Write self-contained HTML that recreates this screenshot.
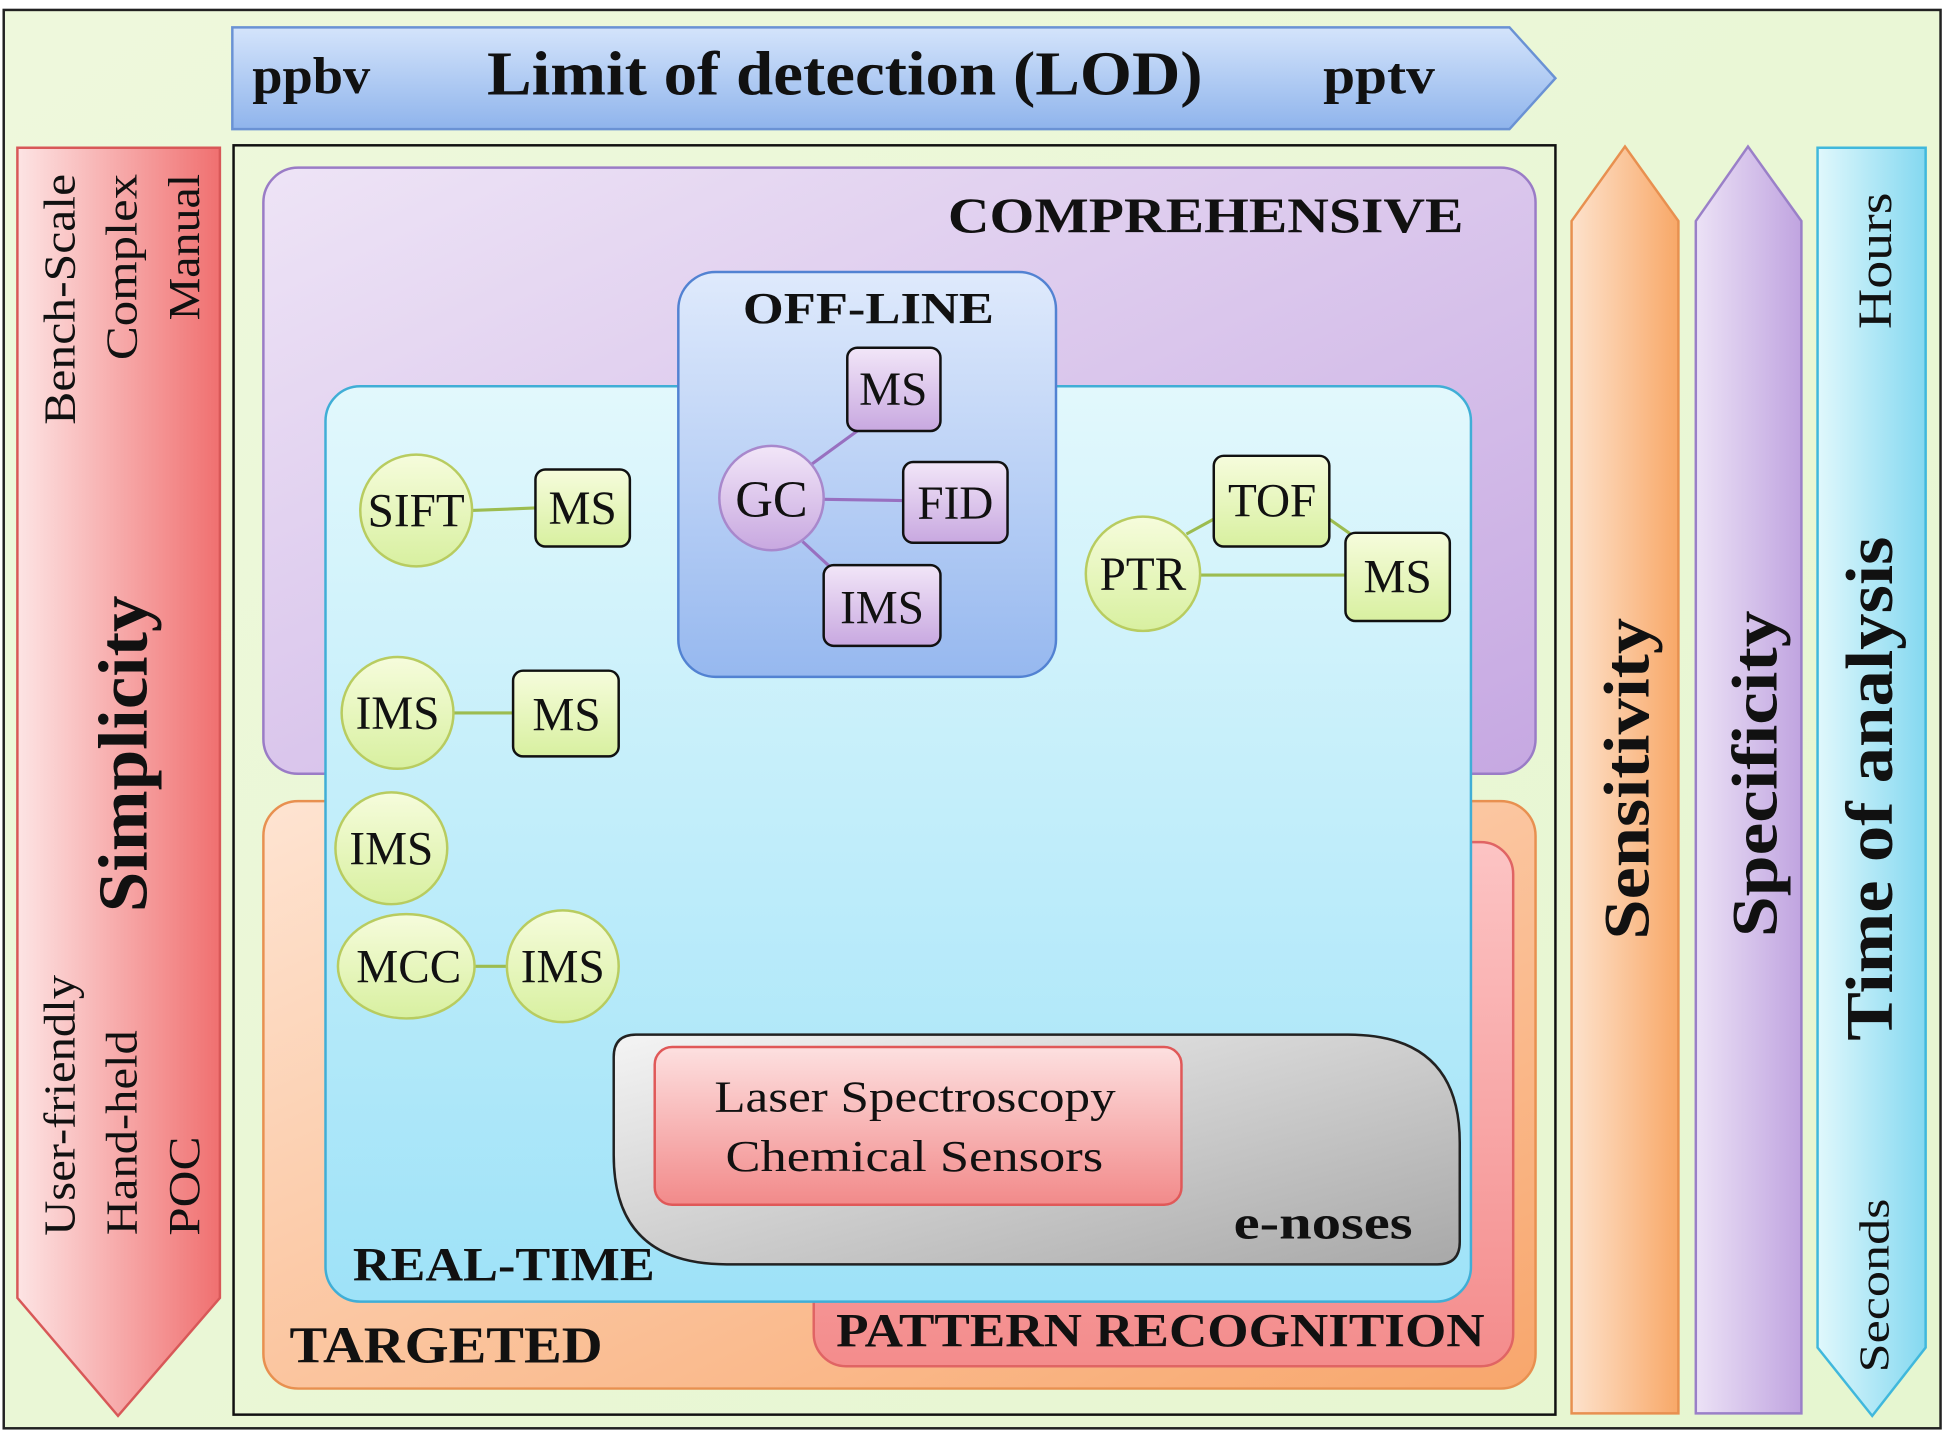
<!DOCTYPE html>
<html><head><meta charset="utf-8"><style>html,body{margin:0;padding:0;background:#fff}svg{display:block}</style></head>
<body>
<svg width="1948" height="1437" viewBox="0 0 1568 1157" preserveAspectRatio="none" xmlns="http://www.w3.org/2000/svg" font-family="Liberation Serif, serif">
<defs>
<linearGradient id="bg" x1="0" y1="0" x2="1" y2="1"><stop offset="0" stop-color="#eef8dc"/><stop offset="1" stop-color="#e6f6d0"/></linearGradient>
<linearGradient id="lod" x1="0" y1="0" x2="0" y2="1"><stop offset="0" stop-color="#d4e4fb"/><stop offset="1" stop-color="#8fb4ec"/></linearGradient>
<linearGradient id="simp" x1="0" y1="0" x2="1" y2="0"><stop offset="0" stop-color="#fde4e4"/><stop offset="1" stop-color="#f07070"/></linearGradient>
<linearGradient id="sens" x1="0" y1="0" x2="1" y2="0"><stop offset="0" stop-color="#fde2cc"/><stop offset="1" stop-color="#f8a868"/></linearGradient>
<linearGradient id="spec" x1="0" y1="0" x2="1" y2="0"><stop offset="0" stop-color="#ece2f6"/><stop offset="1" stop-color="#c0a4e0"/></linearGradient>
<linearGradient id="time" x1="0" y1="0" x2="1" y2="0"><stop offset="0" stop-color="#e0f8fc"/><stop offset="1" stop-color="#84d8f0"/></linearGradient>
<linearGradient id="comp" x1="0" y1="0" x2="1" y2="1"><stop offset="0" stop-color="#eee4f6"/><stop offset="1" stop-color="#c6a8e2"/></linearGradient>
<linearGradient id="targ" x1="0" y1="0" x2="1" y2="1"><stop offset="0" stop-color="#fee4d2"/><stop offset="1" stop-color="#f8a66c"/></linearGradient>
<linearGradient id="patt" x1="0" y1="0" x2="0" y2="1"><stop offset="0" stop-color="#fcc4c4"/><stop offset="1" stop-color="#f48c8c"/></linearGradient>
<linearGradient id="rt" x1="0" y1="0" x2="0" y2="1"><stop offset="0" stop-color="#e2f8fc"/><stop offset="1" stop-color="#9ee2f8"/></linearGradient>
<linearGradient id="off" x1="0" y1="0" x2="0" y2="1"><stop offset="0" stop-color="#dfeafc"/><stop offset="1" stop-color="#96b8ef"/></linearGradient>
<linearGradient id="gray" x1="0" y1="0" x2="1" y2="1"><stop offset="0" stop-color="#f4f4f4"/><stop offset="1" stop-color="#a8a8a8"/></linearGradient>
<linearGradient id="laser" x1="0" y1="0" x2="0" y2="1"><stop offset="0" stop-color="#fde0e0"/><stop offset="1" stop-color="#f28a8a"/></linearGradient>
<linearGradient id="gn" x1="0" y1="0" x2="0" y2="1"><stop offset="0" stop-color="#f6fcdc"/><stop offset="1" stop-color="#d8f0a0"/></linearGradient>
<linearGradient id="pn" x1="0" y1="0" x2="0" y2="1"><stop offset="0" stop-color="#f2e6f8"/><stop offset="1" stop-color="#c8a8e0"/></linearGradient>
</defs>
<rect x="0" y="0" width="1568" height="1157" fill="#fff"/>
<rect x="3" y="8" width="1559" height="1142" fill="url(#bg)" stroke="#222" stroke-width="2"/>
<polygon points="187,22 1215,22 1252,63 1215,104 187,104" fill="url(#lod)" stroke="#6a92d4" stroke-width="2"/>
<g font-weight="bold" fill="#111" lengthAdjust="spacingAndGlyphs">
<text x="203" y="75" font-size="42" textLength="95" lengthAdjust="spacingAndGlyphs">ppbv</text>
<text x="392" y="76" font-size="50" textLength="576" lengthAdjust="spacingAndGlyphs">Limit of detection (LOD)</text>
<text x="1065" y="75" font-size="42" textLength="90" lengthAdjust="spacingAndGlyphs">pptv</text>
</g>
<polygon points="14,119 177,119 177,1045 95,1140 14,1045" fill="url(#simp)" stroke="#d85858" stroke-width="2"/>
<polygon points="1265,178 1308,118 1351,178 1351,1138 1265,1138" fill="url(#sens)" stroke="#e89050" stroke-width="2"/>
<polygon points="1365,178 1407,118 1450,178 1450,1138 1365,1138" fill="url(#spec)" stroke="#9a80c8" stroke-width="2"/>
<polygon points="1463,119 1550,119 1550,1085 1507,1140 1463,1085" fill="url(#time)" stroke="#40b8dc" stroke-width="2"/>
<rect x="188" y="117" width="1064" height="1022" fill="none" stroke="#111" stroke-width="2"/>
<rect x="212" y="135" width="1024" height="488" rx="28" fill="url(#comp)" stroke="#9a7cc6" stroke-width="2"/>
<rect x="212" y="645" width="1024" height="473" rx="28" fill="url(#targ)" stroke="#e89050" stroke-width="2"/>
<rect x="655" y="678" width="563" height="422" rx="26" fill="url(#patt)" stroke="#e06464" stroke-width="2"/>
<rect x="262" y="311" width="922" height="737" rx="28" fill="url(#rt)" stroke="#40aed6" stroke-width="2"/>
<path d="M540,833 L1085,833 Q1175,833 1175,920 L1175,1000 Q1175,1018 1157,1018 L585,1018 Q494,1018 494,930 L494,851 Q494,833 512,833 Z" fill="url(#gray)" stroke="#222" stroke-width="2"/>
<rect x="527" y="843" width="424" height="127" rx="14" fill="url(#laser)" stroke="#e05858" stroke-width="2"/>
<rect x="546" y="219" width="304" height="326" rx="30" fill="url(#off)" stroke="#5282d2" stroke-width="2"/>
<g stroke-width="2.5">
<line x1="380" y1="411" x2="431" y2="409" stroke="#9cbc50"/>
<line x1="365" y1="574" x2="413" y2="574" stroke="#9cbc50"/>
<line x1="382" y1="778" x2="408" y2="778" stroke="#9cbc50"/>
<line x1="955" y1="430" x2="977" y2="418" stroke="#9cbc50"/>
<line x1="965" y1="463" x2="1083" y2="463" stroke="#9cbc50"/>
<line x1="1070" y1="418" x2="1090" y2="432" stroke="#9cbc50"/>
<line x1="653" y1="374" x2="690" y2="347" stroke="#9870c0"/>
<line x1="663" y1="402" x2="727" y2="403" stroke="#9870c0"/>
<line x1="646" y1="436" x2="672" y2="460" stroke="#9870c0"/>
</g>
<g stroke="#b8cc60" stroke-width="2" fill="url(#gn)">
<ellipse cx="335" cy="411" rx="45" ry="45"/>
<ellipse cx="320" cy="574" rx="45" ry="45"/>
<ellipse cx="315" cy="683" rx="45" ry="45"/>
<ellipse cx="327" cy="778" rx="55" ry="42"/>
<ellipse cx="453" cy="778" rx="45" ry="45"/>
<ellipse cx="920" cy="462" rx="46" ry="46"/>
</g>
<g stroke="#111" stroke-width="2" fill="url(#gn)">
<rect x="431" y="378" width="76" height="62" rx="8"/>
<rect x="413" y="540" width="85" height="69" rx="8"/>
<rect x="977" y="367" width="93" height="73" rx="8"/>
<rect x="1083" y="429" width="84" height="71" rx="8"/>
</g>
<ellipse cx="621" cy="401" rx="42" ry="42" fill="url(#pn)" stroke="#a888cc" stroke-width="2"/>
<g stroke="#111" stroke-width="2" fill="url(#pn)">
<rect x="682" y="280" width="75" height="67" rx="8"/>
<rect x="727" y="372" width="84" height="65" rx="8"/>
<rect x="663" y="455" width="94" height="65" rx="8"/>
</g>
<g font-size="38" fill="#111" text-anchor="middle">
<text x="335" y="424">SIFT</text>
<text x="469" y="422">MS</text>
<text x="320" y="587">IMS</text>
<text x="456" y="588">MS</text>
<text x="315" y="696">IMS</text>
<text x="329" y="791">MCC</text>
<text x="453" y="791">IMS</text>
<text x="920" y="475">PTR</text>
<text x="1024" y="416">TOF</text>
<text x="1125" y="477">MS</text>
<text x="621" y="416" font-size="42">GC</text>
<text x="719" y="326">MS</text>
<text x="769" y="418">FID</text>
<text x="710" y="502">IMS</text>
</g>
<g font-size="36" fill="#111">
<text x="575" y="895" textLength="323" lengthAdjust="spacingAndGlyphs">Laser Spectroscopy</text>
<text x="584" y="943" textLength="304" lengthAdjust="spacingAndGlyphs">Chemical  Sensors</text>
</g>
<g font-weight="bold" fill="#111">
<text x="763" y="187" font-size="40" textLength="415" lengthAdjust="spacingAndGlyphs">COMPREHENSIVE</text>
<text x="598" y="260" font-size="36" textLength="202" lengthAdjust="spacingAndGlyphs">OFF-LINE</text>
<text x="284" y="1031" font-size="38" textLength="243" lengthAdjust="spacingAndGlyphs">REAL-TIME</text>
<text x="233" y="1097" font-size="42" textLength="252" lengthAdjust="spacingAndGlyphs">TARGETED</text>
<text x="673" y="1084" font-size="38" textLength="522" lengthAdjust="spacingAndGlyphs">PATTERN RECOGNITION</text>
<text x="993" y="997" font-size="38" textLength="144" lengthAdjust="spacingAndGlyphs">e-noses</text>
</g>
<g fill="#111" text-anchor="middle">
<text transform="translate(118,607) rotate(-90)" font-size="56" font-weight="bold" textLength="255" lengthAdjust="spacingAndGlyphs">Simplicity</text>
<text transform="translate(60,241) rotate(-90)" font-size="36" textLength="202" lengthAdjust="spacingAndGlyphs">Bench-Scale</text>
<text transform="translate(110,215) rotate(-90)" font-size="36" textLength="150" lengthAdjust="spacingAndGlyphs">Complex</text>
<text transform="translate(160,199) rotate(-90)" font-size="36" textLength="118" lengthAdjust="spacingAndGlyphs">Manual</text>
<text transform="translate(60,890) rotate(-90)" font-size="36" textLength="210" lengthAdjust="spacingAndGlyphs">User-friendly</text>
<text transform="translate(110,912) rotate(-90)" font-size="36" textLength="165" lengthAdjust="spacingAndGlyphs">Hand-held</text>
<text transform="translate(160,955) rotate(-90)" font-size="36" textLength="80" lengthAdjust="spacingAndGlyphs">POC</text>
<text transform="translate(1327,627) rotate(-90)" font-size="52" font-weight="bold" textLength="259" lengthAdjust="spacingAndGlyphs">Sensitivity</text>
<text transform="translate(1430,623) rotate(-90)" font-size="52" font-weight="bold" textLength="263" lengthAdjust="spacingAndGlyphs">Specificity</text>
<text transform="translate(1523,635) rotate(-90)" font-size="54" font-weight="bold" textLength="406" lengthAdjust="spacingAndGlyphs">Time of analysis</text>
<text transform="translate(1522,210) rotate(-90)" font-size="38" textLength="110" lengthAdjust="spacingAndGlyphs">Hours</text>
<text transform="translate(1520,1035) rotate(-90)" font-size="34" textLength="140" lengthAdjust="spacingAndGlyphs">Seconds</text>
</g>
</svg>
</body></html>
